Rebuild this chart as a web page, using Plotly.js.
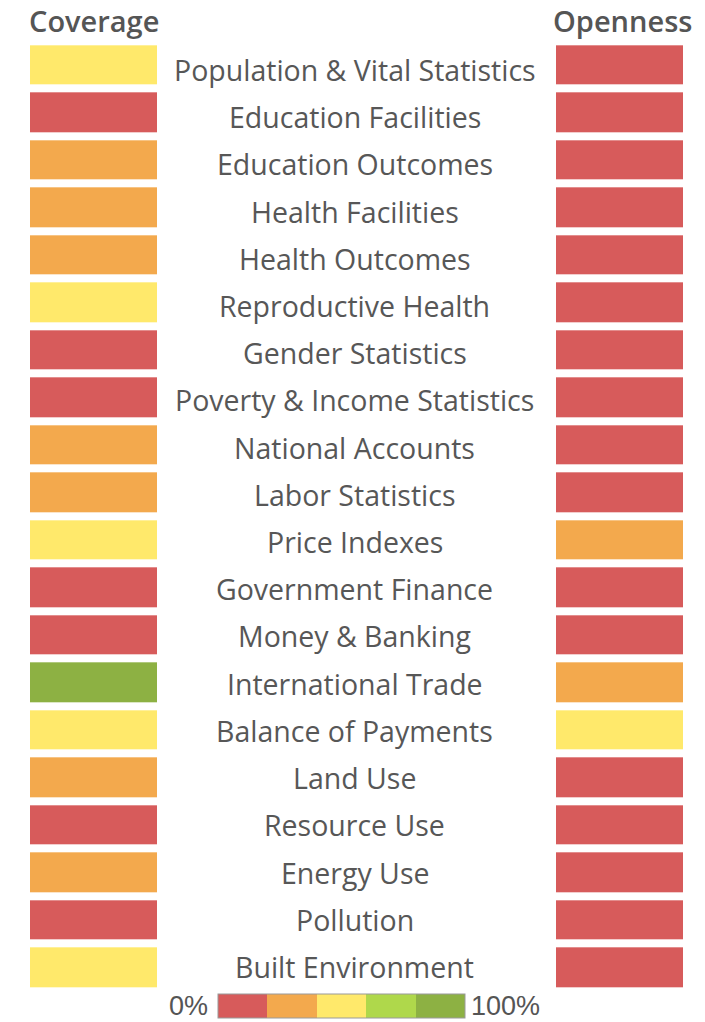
<!DOCTYPE html>
<html>
<head>
<meta charset="utf-8">
<script src="https://cdn.plot.ly/plotly-3.0.1.min.js"></script>
<style>html,body{margin:0;padding:0;background:#fff;}#chart{width:705px;height:1022px;}</style>
</head>
<body>
<div id="chart"></div>
<script>
// Categories (top to bottom)
var categories = [
  "Population & Vital Statistics", "Education Facilities", "Education Outcomes",
  "Health Facilities", "Health Outcomes", "Reproductive Health", "Gender Statistics",
  "Poverty & Income Statistics", "National Accounts", "Labor Statistics", "Price Indexes",
  "Government Finance", "Money & Banking", "International Trade", "Balance of Payments",
  "Land Use", "Resource Use", "Energy Use", "Pollution", "Built Environment"
];
// Score levels: 0 = red (lowest) ... 4 = dark green (100%)
var coverage = [2, 0, 1, 1, 1, 2, 0, 0, 1, 1, 2, 0, 0, 4, 2, 1, 0, 1, 0, 2];
var openness = [0, 0, 0, 0, 0, 0, 0, 0, 0, 0, 1, 0, 0, 1, 2, 0, 0, 0, 0, 0];
var levelColors = ["#D75B5B", "#F3A94D", "#FFE96B", "#AFD84B", "#8DB143"];
var columnTitles = ["Coverage", "Openness"];
var scaleLabels = ["0%", "100%"];

var W = 705, H = 1022;
function px(x) { return x / W; }
function py(y) { return 1 - y / H; }

var cs = [];
levelColors.forEach(function (c, i) {
  cs.push([i / levelColors.length, c]);
  cs.push([(i + 1) / levelColors.length, c]);
});

function col(vals) { return vals.map(function (v) { return [v]; }); }

var traces = [
  {type: "heatmap", x: [0], y: categories, z: col(coverage), coloraxis: "coloraxis",
   xaxis: "x", yaxis: "y", ygap: 8, hoverinfo: "y+z"},
  {type: "heatmap", x: [0], y: categories, z: col(openness), coloraxis: "coloraxis",
   xaxis: "x2", yaxis: "y", ygap: 8, hoverinfo: "y+z"}
];

var font = "Open Sans, Noto Sans, sans-serif";
var annotations = categories.map(function (c, i) {
  return {text: c, xref: "paper", yref: "y", x: px(355), y: c, yshift: -(5 - 0.28 * i),
          showarrow: false, xanchor: "center", yanchor: "middle",
          font: {family: font, size: 28.5, color: "#575757"}};
});
annotations.push({text: columnTitles[0], xref: "paper", yref: "paper", x: px(94), y: py(21),
  showarrow: false, xanchor: "center", yanchor: "middle",
  font: {family: font, size: 29, color: "#555555", weight: 600}});
annotations.push({text: columnTitles[1], xref: "paper", yref: "paper", x: px(622), y: py(21),
  showarrow: false, xanchor: "center", yanchor: "middle",
  font: {family: font, size: 29, color: "#555555", weight: 600}});
annotations.push({text: scaleLabels[0], xref: "paper", yref: "paper", x: px(210), y: py(1006),
  showarrow: false, xanchor: "right", yanchor: "middle",
  font: {family: "Liberation Sans, Arial, sans-serif", size: 27, color: "#555555"}});
annotations.push({text: scaleLabels[1], xref: "paper", yref: "paper", x: px(469), y: py(1006),
  showarrow: false, xanchor: "left", yanchor: "middle",
  font: {family: "Liberation Sans, Arial, sans-serif", size: 27, color: "#555555"}});

var layout = {
  width: W, height: H,
  margin: {l: 0, r: 0, t: 0, b: 0},
  paper_bgcolor: "#ffffff", plot_bgcolor: "#ffffff",
  showlegend: false,
  xaxis: {domain: [px(30), px(157)], visible: false, fixedrange: true},
  xaxis2: {domain: [px(556), px(683)], visible: false, fixedrange: true, anchor: "y"},
  yaxis: {domain: [py(991), py(39)], visible: false, autorange: "reversed", type: "category", fixedrange: true},
  coloraxis: {
    cmin: -0.5, cmax: 4.5, colorscale: cs,
    colorbar: {
      orientation: "h", x: px(341.5), xanchor: "center", y: py(1019), yanchor: "bottom",
      len: 247, lenmode: "pixels", thickness: 24, thicknessmode: "pixels",
      xpad: 0, ypad: 0, outlinecolor: "#9a9a9a", outlinewidth: 1,
      showticklabels: false, ticks: ""
    }
  },
  annotations: annotations
};

Plotly.newPlot("chart", traces, layout, {displayModeBar: false, staticPlot: true});
</script>
</body>
</html>
